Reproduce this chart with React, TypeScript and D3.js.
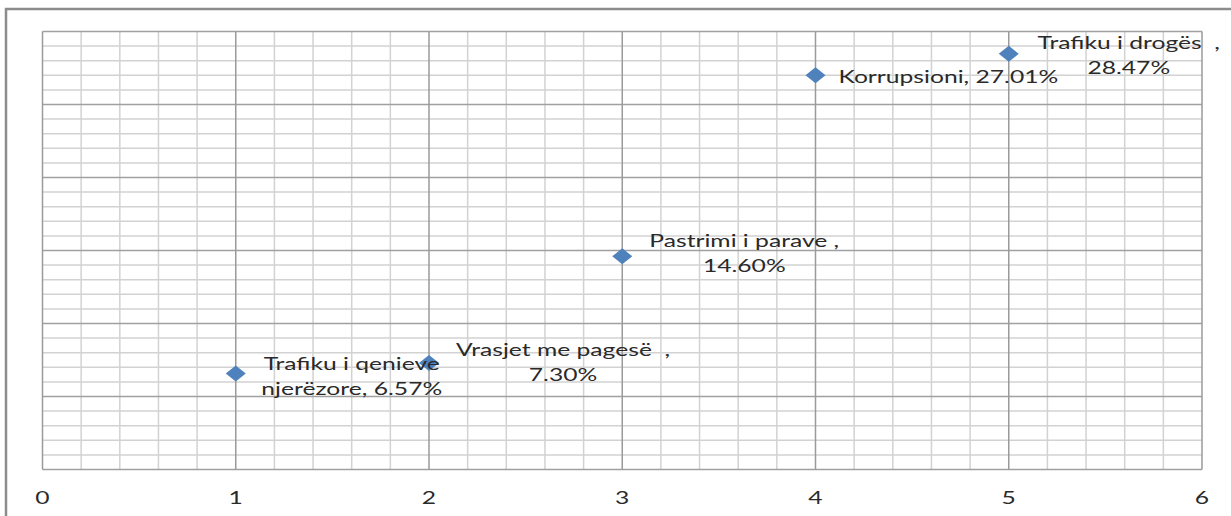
import React from "react";
import * as d3 from "d3";

const categories = [1, 2, 3, 4, 5];
const values = [6.57, 7.3, 14.6, 27.01, 28.47];
const labelLines = [
  ["Trafiku i qenieve", "njerëzore, 6.57%"],
  ["Vrasjet me pagesë  ,", "7.30%"],
  ["Pastrimi i parave ,", "14.60%"],
  ["Korrupsioni, 27.01%"],
  ["Trafiku i drogës  ,", "28.47%"],
];
const xTicks = [0, 1, 2, 3, 4, 5, 6];

// layout of labels relative to their point
const labelLayout = [
  { anchor: "middle", dx: 116, dy: -4 },
  { anchor: "middle", dx: 134, dy: -7 },
  { anchor: "middle", dx: 122, dy: -9 },
  { anchor: "start", dx: 23, dy: 8 },
  { anchor: "middle", dx: 120, dy: -5 },
];

const W = 1231;
const H = 516;
const left = 42.5, right = 1202, top = 31.5, bottom = 469.5;
const FONT = "Lato, 'Open Sans', sans-serif";
const FS = 18;
const SX = 1.37;
const LH = 25;

export default function App() {
  const x = d3.scaleLinear().domain([0, 6]).range([left, right]);
  const y = d3.scaleLinear().domain([0, 30]).range([bottom, top]);
  const xMinor = d3.range(0, 6.0001, 0.2);
  const yMinor = d3.range(0, 30.0001, 1);

  const diamond = (cx: number, cy: number) =>
    `M${cx},${cy - 8}L${cx + 10},${cy}L${cx},${cy + 8}L${cx - 10},${cy}Z`;

  return (
    <svg
      width={W}
      height={H}
      style={{ position: "absolute", left: 0, top: 0, background: "#fff" }}
    >
      <rect x={0} y={0} width={W} height={H} fill="#fff" />
      {/* outer frame */}
      <path d={`M6,${H}L6,9L${W},9`} fill="none" stroke="#8c8c8c" strokeWidth={2.5} />
      {/* minor grid */}
      {xMinor.map((v, i) =>
        i % 5 === 0 ? null : (
          <line key={"xm" + i} x1={x(v)} x2={x(v)} y1={top} y2={bottom} stroke="#d2d2d2" strokeWidth={1.5} />
        )
      )}
      {yMinor.map((v, i) =>
        i % 5 === 0 ? null : (
          <line key={"ym" + i} x1={left} x2={right} y1={y(v)} y2={y(v)} stroke="#d2d2d2" strokeWidth={1.5} />
        )
      )}
      {/* major grid */}
      {yMinor.filter((_, i) => i % 5 === 0).map((v, i) => (
        <line key={"yM" + i} x1={left} x2={right} y1={y(v)} y2={y(v)} stroke="#a0a0a0" strokeWidth={1.5} />
      ))}
      {xTicks.map((v, i) => (
        <line key={"xM" + i} x1={x(v)} x2={x(v)} y1={top} y2={bottom} stroke="#9a9a9a" strokeWidth={1.5} />
      ))}
      {/* tick labels */}
      {xTicks.map((v) => (
        <text
          key={"t" + v}
          transform={`translate(${x(v)},${504}) scale(${SX},1)`}
          textAnchor="middle"
          fontFamily={FONT}
          fontSize={FS}
          fill="#2a2a2a"
        >
          {v}
        </text>
      ))}
      {/* points */}
      {categories.map((c, i) => (
        <path key={"p" + i} d={diamond(x(c), y(values[i]))} fill="#4f81bd" />
      ))}
      {/* labels */}
      {categories.map((c, i) => {
        const L = labelLayout[i];
        const px = x(c) + L.dx;
        const py = y(values[i]) + L.dy;
        return labelLines[i].map((t, j) => (
          <text
            key={"l" + i + "-" + j}
            transform={`translate(${px},${py + j * LH}) scale(${SX},1)`}
            textAnchor={L.anchor as any}
            fontFamily={FONT}
            fontSize={FS}
            fill="#2a2a2a"
            style={{ whiteSpace: "pre" }}
          >
            {t}
          </text>
        ));
      })}
    </svg>
  );
}
